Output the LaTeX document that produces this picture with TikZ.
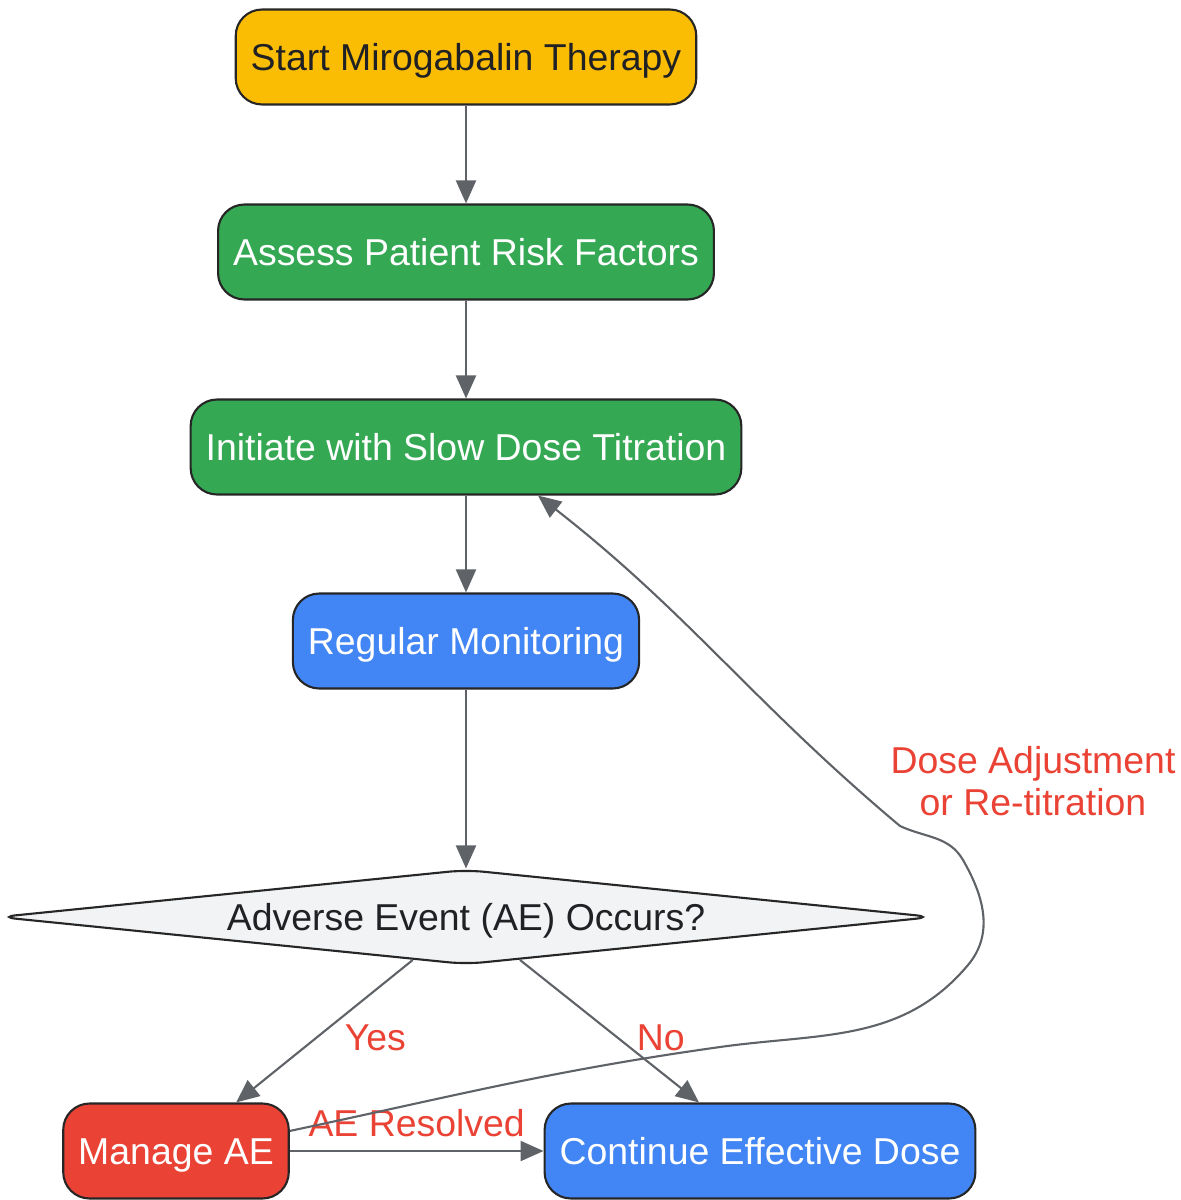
\documentclass[tikz,border=0pt]{standalone}
\usepackage{fontspec}
\setmainfont{Liberation Sans}
\usetikzlibrary{arrows.meta,shapes.geometric}
\definecolor{startyellow}{HTML}{FBBC04}
\definecolor{stepgreen}{HTML}{34A853}
\definecolor{stepblue}{HTML}{4285F4}
\definecolor{stepred}{HTML}{EA4335}
\definecolor{decgray}{HTML}{F1F3F4}
\definecolor{edgegray}{HTML}{5F6368}
\definecolor{darktext}{HTML}{202124}
\begin{document}
\begin{tikzpicture}[x=0.02cm, y=-0.02cm,
    flow node/.style={rectangle, rounded corners=15pt, draw=black!85, line width=1.2pt, minimum height=1.9cm, inner xsep=0.3cm, inner ysep=0pt, text height=0.54cm, text depth=0pt, font=\fontsize{21.3pt}{25pt}\selectfont, text=white},
    decision node/.style={diamond, aspect=10, rounded corners=10pt, draw=black!85, line width=1.2pt, fill=decgray, inner sep=0pt, minimum width=18.7cm, minimum height=1.9cm, text height=0.54cm, text depth=0pt, font=\fontsize{21.3pt}{25pt}\selectfont, text=darktext},
    arrow/.style={draw=edgegray, line width=1.2pt, -{Triangle[length=0.46cm, width=0.4cm]}},
    lbl/.style={text=stepred, font=\fontsize{21.3pt}{24pt}\selectfont, inner sep=1pt}]

                        \useasboundingbox (0,0) rectangle (1180,1200);

                        \node[flow node, fill=startyellow, text=darktext] at (466, 57) (start) {Start Mirogabalin Therapy};
                        \node[flow node, fill=stepgreen] at (466, 252) (assess) {Assess Patient Risk Factors};
                        \node[flow node, fill=stepgreen] at (466, 447) (initiate) {Initiate with Slow Dose Titration};
                        \node[flow node, fill=stepblue] at (466, 641) (monitor) {Regular Monitoring};
                        \node[decision node] at (466, 917) (ae) {Adverse Event (AE) Occurs?};
                        \node[flow node, fill=stepred] at (176, 1151) (manage) {Manage AE};
                        \node[flow node, fill=stepblue] at (760, 1151) (continue) {Continue Effective Dose};


                        \path (start) edge[arrow] (assess);
                        \path (assess) edge[arrow] (initiate);
                        \path (initiate) edge[arrow] (monitor);
                        \path (monitor) edge[arrow] (ae);
                        \path (ae) edge[arrow] node[lbl, right=10pt, yshift=-0.14cm] {Yes} (manage);
                        \path (ae) edge[arrow] node[lbl, right=14pt, yshift=-0.14cm] {No} (continue);
                        \path (manage) edge[arrow] node[lbl, above=0.22cm] {AE Resolved} (continue);
                        \draw[arrow] (manage.10) to[out=12, in=188] (720, 1047) to[out=8, in=230] (968, 965)
                            to[out=50, in=-60] (963, 860) to[out=120, in=-25] (900, 826) to[out=140, in=-38] (initiate.-34);
                        \node[lbl, align=center] at (1033, 781) (dose) {Dose Adjustment\\or Re-titration};

                    \end{tikzpicture}
\end{document}
